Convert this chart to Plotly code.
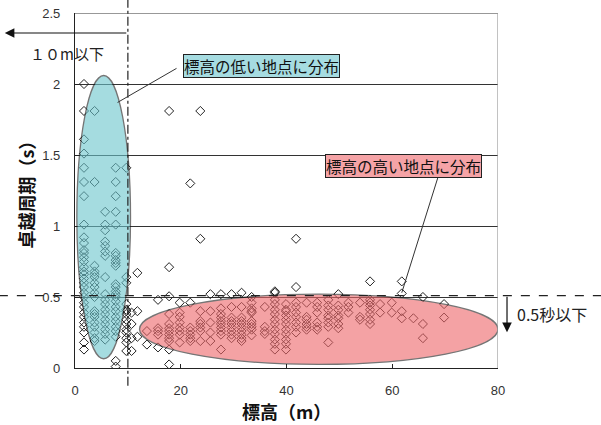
import plotly.graph_objects as go

# Column-wise readings: elevation (m) -> list of predominant periods (s)
elev_cols = [1.7, 3.7, 5.7, 7.7, 9.7, 10.7, 11.8, 13.6, 15.7, 17.8, 19.8, 21.8, 23.7,
             25.6, 27.6, 29.6, 31.5, 33.4, 35.9, 37.8, 39.9, 41.8, 43.8, 45.8, 47.9,
             49.8, 51.7, 53.9, 55.8, 57.7, 59.9, 61.8, 64.0, 65.8, 69.8]
period_cols = [
    [2.0, 1.81, 1.61, 1.51, 1.41, 1.31, 1.21, 1.01, 0.92, 0.88, 0.83, 0.81, 0.78, 0.75, 0.71,
     0.68, 0.66, 0.63, 0.60, 0.57, 0.53, 0.50, 0.46, 0.43, 0.39, 0.36, 0.32, 0.29, 0.25, 0.18, 0.13],
    [1.81, 1.31, 0.72, 0.68, 0.66, 0.64, 0.60, 0.57, 0.53, 0.50, 0.40, 0.38, 0.36, 0.32, 0.29,
     0.25, 0.21, 0.19],
    [1.10, 1.01, 0.97, 0.89, 0.86, 0.82, 0.79, 0.64, 0.52, 0.48, 0.45, 0.41, 0.38, 0.34, 0.31,
     0.27, 0.24, 0.20],
    [1.41, 1.31, 1.21, 1.10, 1.01, 0.81, 0.79, 0.76, 0.74, 0.72, 0.59, 0.57, 0.54, 0.52, 0.50,
     0.47, 0.43, 0.40, 0.36, 0.33, 0.29, 0.26, 0.22, 0.05, 0.01],
    [1.41, 0.64, 0.60, 0.45, 0.41, 0.40, 0.38, 0.34, 0.31, 0.27, 0.25, 0.21, 0.18, 0.12],
    [0.39, 0.31, 0.21, 0.12],
    [0.67, 0.40, 0.22],
    [0.26, 0.165],
    [0.48, 0.28, 0.26, 0.235, 0.145],
    [1.81, 0.71, 0.505, 0.38, 0.31, 0.28, 0.26, 0.235, 0.21, 0.19, 0.13, 0.025],
    [0.46, 0.39, 0.36, 0.32, 0.285, 0.26, 0.235, 0.18],
    [1.30, 0.46, 0.285, 0.26, 0.235, 0.21, 0.19],
    [1.81, 0.91, 0.40, 0.33, 0.31, 0.285, 0.26, 0.19],
    [0.52, 0.40, 0.32, 0.25, 0.19],
    [0.52, 0.42, 0.38, 0.355, 0.33, 0.31, 0.285, 0.26, 0.235, 0.13],
    [0.52, 0.43, 0.355, 0.33, 0.31, 0.285, 0.26, 0.235, 0.21],
    [0.53, 0.43, 0.355, 0.33, 0.31, 0.285, 0.26, 0.235, 0.21, 0.19],
    [0.50, 0.46, 0.42, 0.40, 0.39, 0.33, 0.31, 0.29, 0.27, 0.23],
    [0.43, 0.29, 0.26, 0.24],
    [0.54, 0.53, 0.48, 0.45, 0.41, 0.38, 0.34, 0.31, 0.27, 0.24, 0.20, 0.17, 0.13],
    [0.45, 0.41, 0.40, 0.37, 0.34, 0.31, 0.27, 0.24, 0.20, 0.17, 0.13],
    [0.91, 0.57, 0.46, 0.43, 0.39, 0.36, 0.32, 0.29, 0.25],
    [0.46, 0.36, 0.34, 0.31, 0.29, 0.27],
    [0.46, 0.43, 0.39, 0.32, 0.29, 0.27],
    [0.48, 0.44, 0.41, 0.37, 0.35, 0.32, 0.29, 0.18],
    [0.52, 0.44, 0.41, 0.37, 0.35, 0.31, 0.28],
    [0.46, 0.43, 0.39],
    [0.46, 0.36, 0.34],
    [0.61, 0.48, 0.46, 0.44, 0.41, 0.38, 0.34, 0.31],
    [0.45, 0.39],
    [0.46, 0.39],
    [0.61, 0.525, 0.40, 0.35],
    [0.35],
    [0.50, 0.31, 0.21],
    [0.45, 0.355],
]

y_ticks = [0, 0.5, 1, 1.5, 2, 2.5]
y_tick_labels = ["0", "0.5", "1", "1.5", "2", "2.5"]
x_ticks = [0, 20, 40, 60, 80]
x_tick_labels = ["0", "20", "40", "60", "80"]

xs, ys = [], []
for e, col in zip(elev_cols, period_cols):
    for p in col:
        xs.append(e)
        ys.append(p)

JP = "Noto Sans CJK JP"
NUM = "Liberation Sans, Arial, sans-serif"

fig = go.Figure()
fig.add_trace(go.Scatter(
    x=xs, y=ys, mode="markers",
    marker=dict(symbol="diamond-open", size=7, color="#222222", line=dict(width=1, color="#222222")),
    showlegend=False, hoverinfo="skip"))

shapes = []
# ellipses (semi-transparent, above the points)
shapes.append(dict(type="circle", xref="x", yref="y", x0=0.35, x1=10.5, y0=0.065, y1=2.06,
                   fillcolor="rgb(107,197,205)", opacity=0.6, layer="above",
                   line=dict(color="#1a1a1a", width=1.3)))
shapes.append(dict(type="circle", xref="x", yref="y", x0=12.2, x1=80.0, y0=0.025, y1=0.52,
                   fillcolor="rgb(238,102,105)", opacity=0.6, layer="above",
                   line=dict(color="#1a1a1a", width=1.3)))
# top line and right border
shapes.append(dict(type="line", xref="x", yref="y", x0=0, x1=80, y0=2.5, y1=2.5,
                   line=dict(color="#333333", width=1)))
shapes.append(dict(type="line", xref="x", yref="y", x0=80, x1=80, y0=0, y1=2.5,
                   line=dict(color="#9a9a9a", width=1.2)))
# dash-dot vertical at 10 m
shapes.append(dict(type="line", xref="x", yref="paper", x0=10, x1=10, y0=-0.05, y1=1.04,
                   line=dict(color="#222222", width=1.2, dash="dashdot"), layer="above"))
# dashed horizontal at 0.5 s
shapes.append(dict(type="line", xref="paper", yref="y", x0=-0.18, x1=1.25, y0=0.51, y1=0.51,
                   line=dict(color="#222222", width=1.2, dash="dash"), layer="above"))
# leader lines
shapes.append(dict(type="line", xref="x", yref="y", x0=19.2, y0=2.11, x1=8.05, y1=1.87,
                   line=dict(color="#333333", width=1), layer="above"))
shapes.append(dict(type="line", xref="x", yref="y", x0=68.7, y0=1.35, x1=61.8, y1=0.53,
                   line=dict(color="#333333", width=1), layer="above"))

C = dict(xanchor="center", yanchor="middle", showarrow=False)
annotations = [
    dict(text="標高の低い地点に分布", xref="x", yref="y", x=35.3, y=2.125, **C,
         font=dict(family=JP, size=15.5, color="#111111"), bgcolor="#a6dce1",
         bordercolor="#222222", borderwidth=1, borderpad=0),
    dict(text="標高の高い地点に分布", xref="x", yref="y", x=62.2, y=1.426, **C,
         font=dict(family=JP, size=15.5, color="#111111"), bgcolor="#f5a3a6",
         bordercolor="#222222", borderwidth=1, borderpad=0),
    dict(text="１０m以下", xref="paper", yref="paper", x=-0.019, y=0.887, **C,
         font=dict(family=JP, size=15, color="#222222")),
    dict(text="0.5秒以下", xref="paper", yref="paper", x=1.040, y=0.152, xanchor="left",
         yanchor="middle", showarrow=False, font=dict(family=JP, size=16, color="#222222")),
    dict(text="", xref="paper", yref="paper", x=-0.166, y=0.9437, showarrow=True,
         ax=123, ay=0, arrowhead=2, arrowsize=1.6, arrowwidth=1.2, arrowcolor="#111111"),
    dict(text="", xref="paper", yref="paper", x=1.0213, y=0.101, showarrow=True,
         ax=0, ay=-37, arrowhead=2, arrowsize=1.6, arrowwidth=1.2, arrowcolor="#111111"),
    dict(text="<b>標高（m）</b>", xref="paper", yref="paper", x=0.501, y=-0.121, **C,
         font=dict(family=JP, size=18, color="#111111")),
    dict(text="<b>卓越周期（s）</b>", xref="paper", yref="paper", x=-0.118, y=0.5, **C,
         textangle=-90, font=dict(family=JP, size=18, color="#111111")),
]

fig.update_layout(
    width=601, height=425,
    margin=dict(l=75, r=103, t=13, b=57),
    paper_bgcolor="white", plot_bgcolor="white",
    shapes=shapes, annotations=annotations,
    xaxis=dict(range=[0, 80], tickvals=x_ticks, ticktext=x_tick_labels, showgrid=False,
               zeroline=False, showline=True, linecolor="#222222", linewidth=1.2,
               ticks="inside", ticklen=4, tickcolor="#222222", ticklabelstandoff=10,
               automargin=False,
               tickfont=dict(family=NUM, size=13, color="#333333")),
    yaxis=dict(range=[0, 2.5], tickvals=y_ticks, ticktext=y_tick_labels, showgrid=True,
               gridcolor="#333333", gridwidth=1, zeroline=False, showline=True,
               linecolor="#222222", linewidth=1.2, ticks="inside", ticklen=4,
               tickcolor="#222222", ticklabelstandoff=11, automargin=False,
               tickfont=dict(family=NUM, size=13, color="#333333")),
)

fig.write_html("out.html", config={"displayModeBar": False},
               post_script="document.body.style.margin='0';document.body.style.overflow='hidden';")
